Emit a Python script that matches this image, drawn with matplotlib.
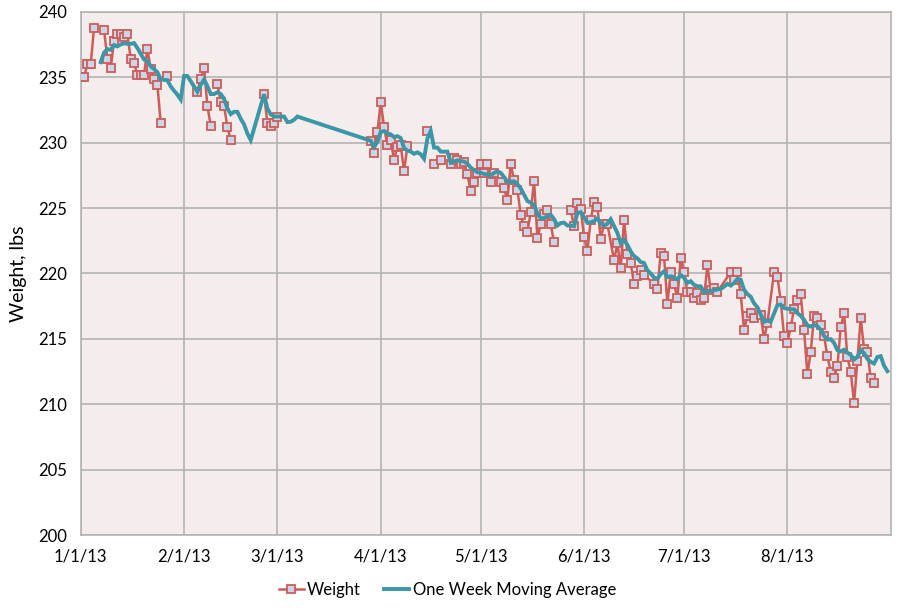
import matplotlib
matplotlib.use("Agg")
import matplotlib.pyplot as plt
import pandas as pd

# daily weigh-ins (None = blank cell in the sheet, shown as a gap)
dates = [
    "1/1", "1/2", "1/3", "1/4", "1/5", "1/6",
    "1/8", "1/9", "1/10", "1/11", "1/12", "1/13", "1/14", "1/15", "1/16", "1/17",
    "1/18", "1/19", "1/20", "1/21", "1/22", "1/23", "1/24", "1/25", "1/26",
    "1/27", "1/28",
    "2/5", "2/6", "2/7", "2/8", "2/9", "2/10",
    "2/11", "2/12", "2/13", "2/14", "2/15", "2/16",
    "2/25", "2/26", "2/27", "2/28", "3/1", "3/2",
    "3/29", "3/30", "3/31", "4/1", "4/2", "4/3", "4/4", "4/5", "4/6", "4/7", "4/8", "4/9", "4/10",
    "4/15", "4/16", "4/17", "4/18", "4/19", "4/20",
    "4/22", "4/23", "4/24", "4/25", "4/26", "4/27", "4/28", "4/29", "4/30",
    "5/1", "5/2", "5/3", "5/4", "5/5", "5/7", "5/8", "5/9", "5/10", "5/11", "5/12",
    "5/13", "5/14", "5/15", "5/16", "5/17", "5/18", "5/19", "5/20", "5/21", "5/22", "5/23", "5/24",
    "5/28", "5/29", "5/30", "5/31",
    "6/1", "6/2", "6/3", "6/4", "6/5", "6/6", "6/7", "6/8", "6/10", "6/11", "6/12", "6/13",
    "6/14", "6/15", "6/16", "6/17", "6/18", "6/19", "6/22", "6/23", "6/24", "6/25", "6/26",
    "6/27", "6/28", "6/29", "6/30",
    "7/1", "7/2", "7/3", "7/4", "7/5", "7/6", "7/7", "7/8", "7/9", "7/10", "7/11",
    "7/15", "7/16", "7/17", "7/18", "7/19", "7/20", "7/21", "7/22", "7/24", "7/25", "7/26",
    "7/28", "7/29", "7/30", "7/31",
    "8/1", "8/2", "8/3", "8/4", "8/5", "8/6", "8/7", "8/8", "8/9", "8/10", "8/11", "8/12",
    "8/13", "8/14", "8/15", "8/16", "8/17", "8/18", "8/19", "8/20", "8/21", "8/22", "8/23",
    "8/24", "8/25", "8/26", "8/27",
]
weights = [
    235.0, 235.0, 236.0, 236.0, 238.8, None,
    238.6, 236.4, 235.7, 237.8, 238.3, 238.3, 238.1, 238.3, 236.4, 236.1,
    235.2, 235.2, 235.2, 237.2, 235.6, 234.9, 234.4, 231.5, None,
    235.1, None,
    233.9, 234.9, 235.7, 232.8, 231.3, None,
    234.5, 233.1, 232.8, 231.2, 230.2, None,
    233.7, 231.5, 231.3, 231.5, 232.0, None,
    230.15, 229.2, 230.8, 233.1, 231.2, 229.8, 230.2, 228.7, 229.7, 229.8, 227.8, 229.75, None,
    230.9, None, 228.35, None, 228.7, None,
    228.35, 228.85, 228.7, 228.35, 228.55, 227.6, 226.3, 227.0, 227.7,
    228.4, 227.7, 228.35, 227.0, 227.7, 227.0, 226.5, 225.6, 228.35, 227.15, 226.4,
    224.5, 223.6, 223.2, 224.7, 227.1, 222.7, 223.75, 224.55, 224.85, 223.75, 222.4, None,
    224.85, 223.6, 225.4, 224.9,
    222.8, 221.75, 224.1, 225.5, 225.1, 222.6, 223.8, 223.8, 221.0, 222.3, 220.4, 224.1,
    221.5, 220.8, 219.2, 219.8, 220.3, 219.9, 219.2, 218.8, 221.6, 221.3, 217.7,
    220.1, 219.2, 218.1, 221.2,
    220.1, 218.6, 218.6, 218.1, 218.5, 218.0, 218.1, 220.65, 218.7, 218.9, 218.6,
    220.1, 219.5, 220.1, 218.4, 215.7, 216.75, 217.0, 216.6, 216.8, 215.0, 216.2,
    220.1, 219.75, 217.9, 215.2,
    214.7, 215.9, 217.3, 218.0, 218.4, 215.7, 212.3, 214.0, 216.75, 216.6, 216.1, 215.2,
    213.7, 212.5, 212.0, 212.9, 215.9, 217.0, 213.6, 212.5, 210.1, 213.3, 216.6,
    214.2, 214.0, 212.0, 211.6,
]

tick_dates = ["1/1", "2/1", "3/1", "4/1", "5/1", "6/1", "7/1", "8/1"]
tick_labels = ["1/1/13", "2/1/13", "3/1/13", "4/1/13", "5/1/13", "6/1/13", "7/1/13", "8/1/13"]
y_ticks = [200, 205, 210, 215, 220, 225, 230, 235, 240]

red = "#D05C5A"
teal = "#3A97A7"

plt.rcParams["font.family"] = ["Lato", "DejaVu Sans"]

idx = pd.to_datetime([d + "/2013" for d in dates], format="%m/%d/%Y")
weight = pd.Series([float("nan") if w is None else w for w in weights], index=idx)

# Excel-style 7 day moving average trendline over the daily rows
daily = weight.dropna().reindex(pd.date_range("2013-01-01", "2013-08-31"))
moving = daily.rolling(7, min_periods=1).mean().iloc[6:].dropna()

fig = plt.figure(figsize=(9, 6.1), dpi=100)
ax = fig.add_axes([0.0897, 0.1228, 0.9, 0.8577])
ax.set_facecolor("#F5ECEC")

ax.plot(weight.index, weight.values, color=red, lw=1.8, marker="s", ms=5.6,
        mfc="#C9D6E8", mec=red, mew=1.3, label="Weight", zorder=3)
ax.plot(moving.index, moving.values, color=teal, lw=2.8, label="One Week Moving Average",
        zorder=4, solid_joinstyle="miter")

ax.set_xlim(pd.Timestamp("2013-01-01"), pd.Timestamp("2013-09-01"))
ax.set_ylim(200, 240)
ax.set_xticks(pd.to_datetime([d + "/2013" for d in tick_dates], format="%m/%d/%Y"))
ax.set_xticklabels(tick_labels, fontsize=12)
ax.set_yticks(y_ticks)
ax.set_yticklabels([str(v) for v in y_ticks], fontsize=12)
ax.tick_params(length=0, pad=10)
ax.grid(True, color="#B4B4B4", lw=1.2)
ax.set_axisbelow(True)
for sp in ax.spines.values():
    sp.set_color("#B4B4B4")
    sp.set_linewidth(1.2)

ax.set_ylabel("Weight, lbs", fontsize=14, labelpad=8)

fig.legend(loc="center", bbox_to_anchor=(0.497, 0.033), ncol=2, frameon=False,
           fontsize=12, handlelength=1.5, handletextpad=0.2, columnspacing=1.4)

fig.savefig("out.png")
